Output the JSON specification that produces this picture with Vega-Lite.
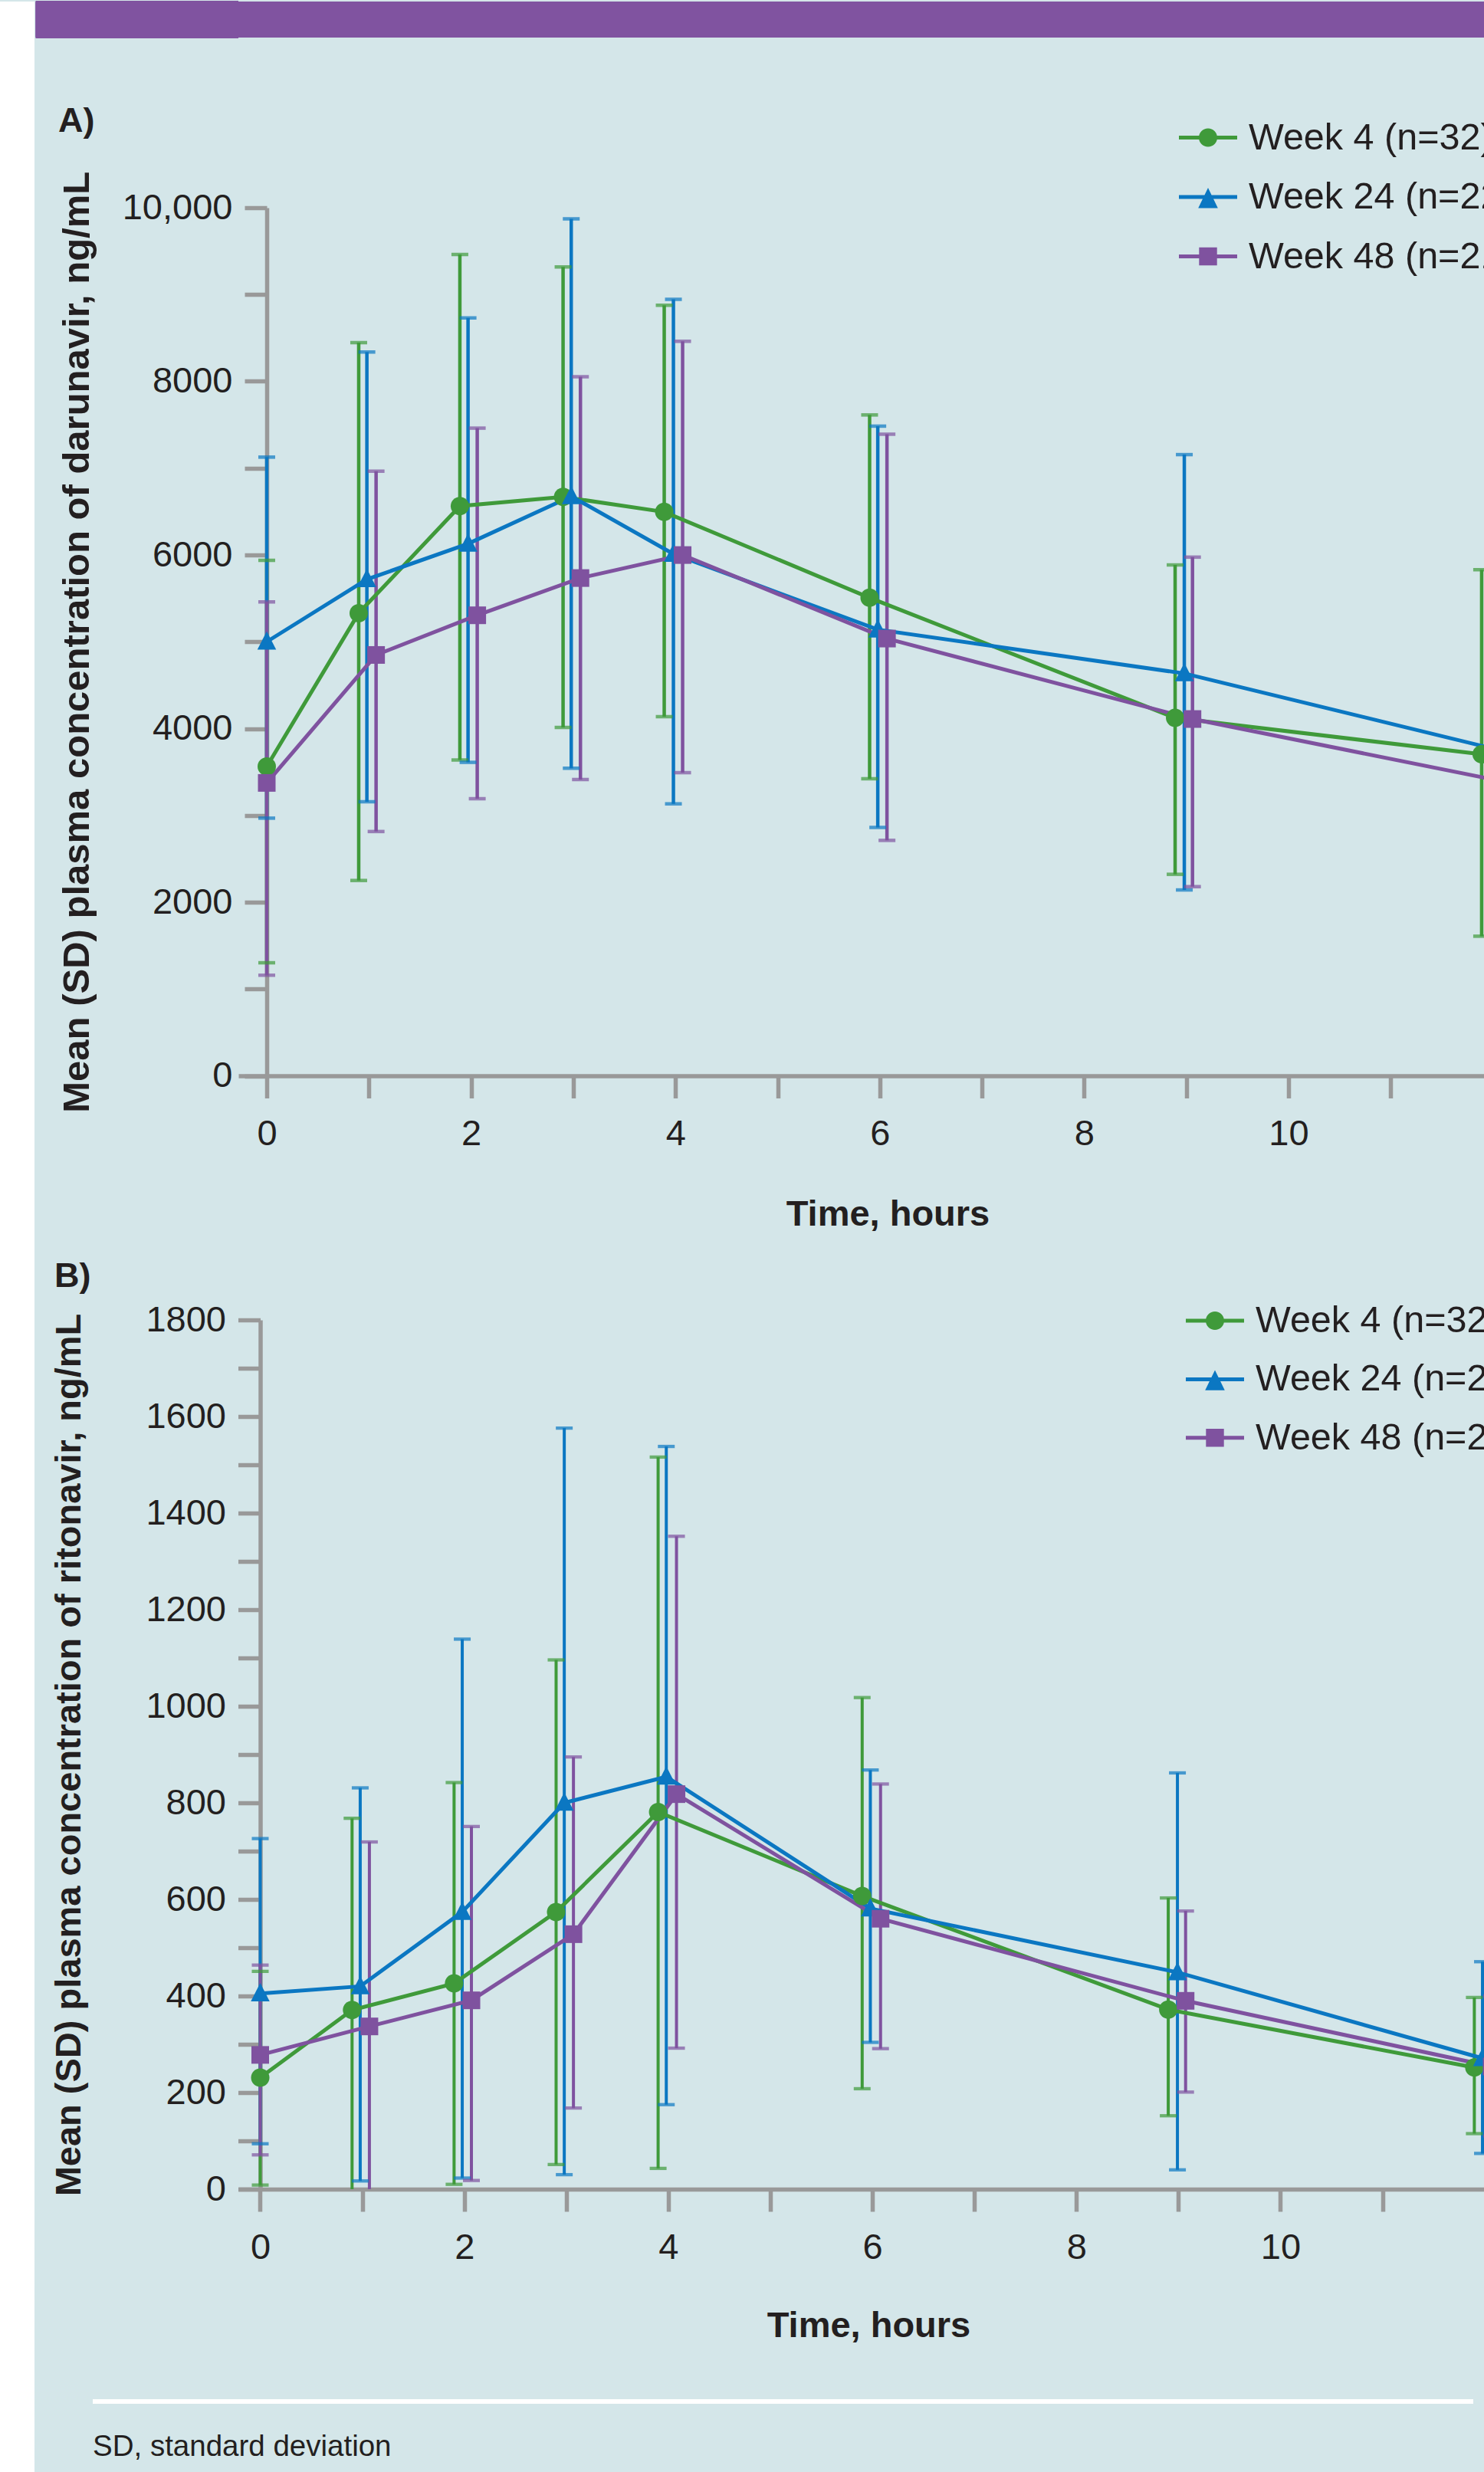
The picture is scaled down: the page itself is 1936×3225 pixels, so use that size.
{
  "$schema": "https://vega.github.io/schema/vega-lite/v6.json",
  "background": "#d4e6e9",
  "padding": 0,
  "spacing": 0,
  "config": {
    "view": {"stroke": null},
    "axis": {
      "grid": false,
      "domainColor": "#999999",
      "domainWidth": 5.5,
      "tickColor": "#999999",
      "tickWidth": 5.5,
      "tickSize": 29,
      "labelFont": "Liberation Sans, Arial, sans-serif",
      "labelFontSize": 47,
      "labelColor": "#231f20",
      "titleFont": "Liberation Sans, Arial, sans-serif",
      "titleFontWeight": "bold",
      "titleColor": "#231f20",
      "labelFlush": false,
      "labelOverlap": false
    },
    "axisX": {"labelPadding": 24, "titleFontSize": 47},
    "axisY": {"labelPadding": 16, "titleFontSize": 49}
  },
  "datasets": {
    "darunavir": [
      {"series": "Week 4 (n=32)", "t": 0, "mean": 3563, "lo": 1302, "hi": 5938},
      {"series": "Week 4 (n=32)", "t": 0.9, "mean": 5330, "lo": 2250, "hi": 8445},
      {"series": "Week 4 (n=32)", "t": 1.89, "mean": 6563, "lo": 3638, "hi": 9461},
      {"series": "Week 4 (n=32)", "t": 2.9, "mean": 6668, "lo": 4013, "hi": 9317},
      {"series": "Week 4 (n=32)", "t": 3.89, "mean": 6496, "lo": 4137, "hi": 8876},
      {"series": "Week 4 (n=32)", "t": 5.9, "mean": 5507, "lo": 3422, "hi": 7613},
      {"series": "Week 4 (n=32)", "t": 8.89, "mean": 4123, "lo": 2321, "hi": 5885},
      {"series": "Week 4 (n=32)", "t": 11.89, "mean": 3704, "lo": 1608, "hi": 5830},
      {"series": "Week 24 (n=22)", "t": 0, "mean": 5000, "lo": 2968, "hi": 7127},
      {"series": "Week 24 (n=22)", "t": 0.98, "mean": 5719, "lo": 3157, "hi": 8337},
      {"series": "Week 24 (n=22)", "t": 1.97, "mean": 6129, "lo": 3611, "hi": 8731},
      {"series": "Week 24 (n=22)", "t": 2.98, "mean": 6676, "lo": 3543, "hi": 9873},
      {"series": "Week 24 (n=22)", "t": 3.98, "mean": 6012, "lo": 3133, "hi": 8944},
      {"series": "Week 24 (n=22)", "t": 5.98, "mean": 5140, "lo": 2861, "hi": 7484},
      {"series": "Week 24 (n=22)", "t": 8.98, "mean": 4635, "lo": 2141, "hi": 7156},
      {"series": "Week 24 (n=22)", "t": 12, "mean": 3770, "lo": 1700, "hi": 5868},
      {"series": "Week 48 (n=21)", "t": 0, "mean": 3374, "lo": 1158, "hi": 5459},
      {"series": "Week 48 (n=21)", "t": 1.07, "mean": 4848, "lo": 2814, "hi": 6965},
      {"series": "Week 48 (n=21)", "t": 2.06, "mean": 5305, "lo": 3192, "hi": 7461},
      {"series": "Week 48 (n=21)", "t": 3.07, "mean": 5734, "lo": 3413, "hi": 8054},
      {"series": "Week 48 (n=21)", "t": 4.07, "mean": 5999, "lo": 3492, "hi": 8461},
      {"series": "Week 48 (n=21)", "t": 6.07, "mean": 5037, "lo": 2712, "hi": 7391},
      {"series": "Week 48 (n=21)", "t": 9.06, "mean": 4110, "lo": 2179, "hi": 5975},
      {"series": "Week 48 (n=21)", "t": 12.06, "mean": 3400, "lo": 1400, "hi": 5400}
    ],
    "ritonavir": [
      {"series": "Week 4 (n=32)", "t": 0, "mean": 231, "lo": 8.5, "hi": 451},
      {"series": "Week 4 (n=32)", "t": 0.9, "mean": 371, "lo": -26, "hi": 768},
      {"series": "Week 4 (n=32)", "t": 1.9, "mean": 426, "lo": 10, "hi": 842},
      {"series": "Week 4 (n=32)", "t": 2.9, "mean": 574, "lo": 51, "hi": 1096},
      {"series": "Week 4 (n=32)", "t": 3.9, "mean": 781, "lo": 43, "hi": 1516},
      {"series": "Week 4 (n=32)", "t": 5.9, "mean": 607, "lo": 208, "hi": 1018},
      {"series": "Week 4 (n=32)", "t": 8.9, "mean": 372, "lo": 152, "hi": 603},
      {"series": "Week 4 (n=32)", "t": 11.9, "mean": 252, "lo": 115, "hi": 397},
      {"series": "Week 24 (n=22)", "t": 0, "mean": 405, "lo": 94, "hi": 726},
      {"series": "Week 24 (n=22)", "t": 0.98, "mean": 420, "lo": 17, "hi": 831},
      {"series": "Week 24 (n=22)", "t": 1.98, "mean": 574, "lo": 23, "hi": 1139},
      {"series": "Week 24 (n=22)", "t": 2.98, "mean": 800, "lo": 30, "hi": 1576},
      {"series": "Week 24 (n=22)", "t": 3.98, "mean": 854, "lo": 175, "hi": 1538},
      {"series": "Week 24 (n=22)", "t": 5.98, "mean": 581, "lo": 304, "hi": 868},
      {"series": "Week 24 (n=22)", "t": 8.99, "mean": 449, "lo": 40, "hi": 862},
      {"series": "Week 24 (n=22)", "t": 11.98, "mean": 271, "lo": 74, "hi": 471},
      {"series": "Week 48 (n=21)", "t": 0, "mean": 278, "lo": 71, "hi": 464},
      {"series": "Week 48 (n=21)", "t": 1.07, "mean": 337, "lo": -46, "hi": 719},
      {"series": "Week 48 (n=21)", "t": 2.07, "mean": 391, "lo": 18, "hi": 751},
      {"series": "Week 48 (n=21)", "t": 3.07, "mean": 528, "lo": 168, "hi": 895},
      {"series": "Week 48 (n=21)", "t": 4.08, "mean": 818, "lo": 292, "hi": 1352},
      {"series": "Week 48 (n=21)", "t": 6.08, "mean": 560, "lo": 291, "hi": 839},
      {"series": "Week 48 (n=21)", "t": 9.07, "mean": 390, "lo": 201, "hi": 576},
      {"series": "Week 48 (n=21)", "t": 12.07, "mean": 254, "lo": 110, "hi": 400}
    ]
  },
  "hconcat": [
    {
      "width": 45,
      "height": 3225,
      "data": {"values": [{}]},
      "mark": {"type": "point", "opacity": 0},
      "view": {"fill": "#ffffff"}
    },
    {
      "spacing": 0,
      "vconcat": [
        {
          "width": 1625,
          "height": 47,
          "data": {"values": [{}]},
          "mark": {"type": "point", "opacity": 0},
          "view": {"fill": "#8053a0"},
          "encoding": {
            "x": {"datum": 0.5, "type": "quantitative", "scale": {"domain": [0, 1]},
              "axis": {"domain": false, "ticks": false, "labels": false, "title": null, "grid": false, "minExtent": 86.4, "maxExtent": 86.4}},
            "y": {"datum": 0.5, "type": "quantitative", "scale": {"domain": [0, 47]},
              "axis": {"values": [0.5,1.5,2.5,3.5,4.5,5.5,6.5,7.5,8.5,9.5,10.5,11.5,12.5,13.5,14.5,15.5,16.5,17.5,18.5,19.5,20.5,21.5,22.5,23.5,24.5,25.5,26.5,27.5,28.5,29.5,30.5,31.5,32.5,33.5,34.5,35.5,36.5,37.5,38.5,39.5,40.5,41.5,42.5,43.5,44.5,45.5,46.5], "domain": false, "labels": false, "title": null, "grid": false, "tickSize": 264.5, "tickWidth": 3, "tickColor": "#8053a0", "tickRound": false, "translate": 0}}
          }
        },
        {
          "width": 1625,
          "height": 1132.5,
          "data": {"name": "darunavir"},
          "title": {"text": "A)", "anchor": "start", "frame": "group", "dx": -235, "offset": -75.5, "baseline": "alphabetic", "font": "Liberation Sans, Arial, sans-serif", "fontSize": 45, "fontWeight": "bold", "color": "#231f20"},
          "encoding": {
            "x": {"field": "t", "type": "quantitative",
              "scale": {"domain": [-0.2776, 11.913], "nice": false, "zero": false},
              "axis": {"title": "Time, hours", "values": [0,1,2,3,4,5,6,7,8,9,10,11,12], "labelExpr": "datum.value % 2 ? '' : datum.value + ''", "titleX": 847, "titleY": 194.5, "titleAlign": "center", "titleBaseline": "alphabetic", "minExtent": 237.9, "maxExtent": 237.9}}
          },
          "layer": [
            {
              "mark": {"type": "rule", "strokeWidth": 4.5, "clip": true},
              "encoding": {
                "y": {"field": "lo", "type": "quantitative", "scale": {"domain": [0, 10000], "nice": false},
                  "axis": {"title": "Mean (SD) plasma concentration of darunavir, ng/mL", "values": [0,1000,2000,3000,4000,5000,6000,7000,8000,9000,10000], "labelExpr": "datum.value % 2000 ? '' : (datum.value == 10000 ? '10,000' : datum.value + '')", "offset": -37, "titleX": -233, "titleY": 566.25, "titleAngle": 270, "titleAlign": "center", "titleBaseline": "alphabetic"}},
                "y2": {"field": "hi"},
                "color": {"field": "series", "type": "nominal", "legend": null, "scale": {"domain": ["Week 4 (n=32)", "Week 24 (n=22)", "Week 48 (n=21)"], "range": ["#3f9a3a", "#0b77c2", "#7f529f"]}}
              }
            },
            {
              "mark": {"type": "tick", "orient": "horizontal", "size": 22, "thickness": 4.5, "clip": true},
              "encoding": {
                "y": {"field": "hi", "type": "quantitative",
                  "axis": {"title": "Mean (SD) plasma concentration of darunavir, ng/mL", "values": [0,1000,2000,3000,4000,5000,6000,7000,8000,9000,10000], "labelExpr": "datum.value % 2000 ? '' : (datum.value == 10000 ? '10,000' : datum.value + '')", "offset": -37, "titleX": -233, "titleY": 566.25, "titleAngle": 270, "titleAlign": "center", "titleBaseline": "alphabetic"}},
                "color": {"field": "series", "type": "nominal", "legend": null, "scale": {"domain": ["Week 4 (n=32)", "Week 24 (n=22)", "Week 48 (n=21)"], "range": ["#3f9a3a", "#0b77c2", "#7f529f"]}}
              }
            },
            {
              "mark": {"type": "tick", "orient": "horizontal", "size": 22, "thickness": 4.5, "clip": true},
              "encoding": {
                "y": {"field": "lo", "type": "quantitative",
                  "axis": {"title": "Mean (SD) plasma concentration of darunavir, ng/mL", "values": [0,1000,2000,3000,4000,5000,6000,7000,8000,9000,10000], "labelExpr": "datum.value % 2000 ? '' : (datum.value == 10000 ? '10,000' : datum.value + '')", "offset": -37, "titleX": -233, "titleY": 566.25, "titleAngle": 270, "titleAlign": "center", "titleBaseline": "alphabetic"}},
                "color": {"field": "series", "type": "nominal", "legend": null, "scale": {"domain": ["Week 4 (n=32)", "Week 24 (n=22)", "Week 48 (n=21)"], "range": ["#3f9a3a", "#0b77c2", "#7f529f"]}}
              }
            },
            {
              "mark": {"type": "line", "strokeWidth": 5, "clip": true},
              "encoding": {
                "y": {"field": "mean", "type": "quantitative",
                  "axis": {"title": "Mean (SD) plasma concentration of darunavir, ng/mL", "values": [0,1000,2000,3000,4000,5000,6000,7000,8000,9000,10000], "labelExpr": "datum.value % 2000 ? '' : (datum.value == 10000 ? '10,000' : datum.value + '')", "offset": -37, "titleX": -233, "titleY": 566.25, "titleAngle": 270, "titleAlign": "center", "titleBaseline": "alphabetic"}},
                "color": {"field": "series", "type": "nominal", "legend": null, "scale": {"domain": ["Week 4 (n=32)", "Week 24 (n=22)", "Week 48 (n=21)"], "range": ["#3f9a3a", "#0b77c2", "#7f529f"]}}
              }
            },
            {
              "mark": {"type": "point", "filled": true, "opacity": 1, "size": 625, "clip": true},
              "encoding": {
                "y": {"field": "mean", "type": "quantitative",
                  "axis": {"title": "Mean (SD) plasma concentration of darunavir, ng/mL", "values": [0,1000,2000,3000,4000,5000,6000,7000,8000,9000,10000], "labelExpr": "datum.value % 2000 ? '' : (datum.value == 10000 ? '10,000' : datum.value + '')", "offset": -37, "titleX": -233, "titleY": 566.25, "titleAngle": 270, "titleAlign": "center", "titleBaseline": "alphabetic"}},
                "color": {"field": "series", "type": "nominal", "legend": null, "scale": {"domain": ["Week 4 (n=32)", "Week 24 (n=22)", "Week 48 (n=21)"], "range": ["#3f9a3a", "#0b77c2", "#7f529f"]}},
                "shape": {"field": "series", "type": "nominal", "legend": null, "scale": {"domain": ["Week 4 (n=32)", "Week 24 (n=22)", "Week 48 (n=21)"], "range": ["M-0.96,0A0.96,0.96 0 1,1 0.96,0A0.96,0.96 0 1,1 -0.96,0Z", "M0,-1.1L0.98,0.82L-0.98,0.82Z", "M-0.92,-0.92H0.92V0.92H-0.92Z"]}}
              }
            },
            {
              "mark": {"type": "point", "filled": true, "opacity": 0},
              "encoding": {
                "y": {"field": "mean", "type": "quantitative",
                  "axis": {"title": "Mean (SD) plasma concentration of darunavir, ng/mL", "values": [0,1000,2000,3000,4000,5000,6000,7000,8000,9000,10000], "labelExpr": "datum.value % 2000 ? '' : (datum.value == 10000 ? '10,000' : datum.value + '')", "offset": -37, "titleX": -233, "titleY": 566.25, "titleAngle": 270, "titleAlign": "center", "titleBaseline": "alphabetic"}},
                "color": {"field": "series", "type": "nominal",
                  "scale": {"domain": ["Week 4 (n=32)", "Week 24 (n=22)", "Week 48 (n=21)"], "range": ["#3f9a3a", "#0b77c2", "#7f529f"]},
                  "legend": {"orient": "none", "legendX": 1227, "legendY": -129.5, "title": null, "symbolSize": 5776, "symbolOpacity": 1, "symbolStrokeWidth": 0, "labelFont": "Liberation Sans, Arial, sans-serif", "labelFontSize": 48.5, "labelColor": "#231f20", "labelOffset": 15, "labelLimit": 2000, "rowPadding": 14.5, "padding": 0}},
                "shape": {"field": "series", "type": "nominal",
                  "scale": {"domain": ["Week 4 (n=32)", "Week 24 (n=22)", "Week 48 (n=21)"], "range": ["M-1,-0.066H1V0.066H-1ZM-0.316,0A0.316,0.316 0 1,1 0.316,0A0.316,0.316 0 1,1 -0.316,0Z", "M-1,-0.066H1V0.066H-1ZM0,-0.316L0.337,0.379H-0.337Z", "M-1,-0.066H1V0.066H-1ZM-0.308,-0.308H0.308V0.308H-0.308Z"]},
                  "legend": {"orient": "none", "legendX": 1227, "legendY": -129.5, "title": null, "symbolSize": 5776, "symbolOpacity": 1, "symbolStrokeWidth": 0, "labelFont": "Liberation Sans, Arial, sans-serif", "labelFontSize": 48.5, "labelColor": "#231f20", "labelOffset": 15, "labelLimit": 2000, "rowPadding": 14.5, "padding": 0}}
              }
            }
          ],
          "resolve": {"scale": {"color": "independent", "shape": "independent"}}
        },
        {
          "width": 1625,
          "height": 1134,
          "data": {"name": "ritonavir"},
          "title": {"text": "B)", "anchor": "start", "frame": "group", "dx": -240, "offset": -38.5, "baseline": "alphabetic", "font": "Liberation Sans, Arial, sans-serif", "fontSize": 45, "fontWeight": "bold", "color": "#231f20"},
          "encoding": {
            "x": {"field": "t", "type": "quantitative",
              "scale": {"domain": [-0.2141, 11.9948], "nice": false, "zero": false},
              "axis": {"title": "Time, hours", "values": [0,1,2,3,4,5,6,7,8,9,10,11,12], "labelExpr": "datum.value % 2 ? '' : datum.value + ''", "titleX": 822, "titleY": 192.5, "titleAlign": "center", "titleBaseline": "alphabetic", "minExtent": 273.5, "maxExtent": 273.5}}
          },
          "layer": [
            {
              "mark": {"type": "rule", "strokeWidth": 4, "clip": true},
              "encoding": {
                "y": {"field": "lo", "type": "quantitative", "scale": {"domain": [0, 1800], "nice": false},
                  "axis": {"title": "Mean (SD) plasma concentration of ritonavir, ng/mL", "titleFontSize": 47, "values": [0,100,200,300,400,500,600,700,800,900,1000,1100,1200,1300,1400,1500,1600,1700,1800], "labelExpr": "datum.value % 200 ? '' : datum.value + ''", "offset": -28.5, "titleX": -235, "titleY": 567, "titleAngle": 270, "titleAlign": "center", "titleBaseline": "alphabetic"}},
                "y2": {"field": "hi"},
                "color": {"field": "series", "type": "nominal", "legend": null, "scale": {"domain": ["Week 4 (n=32)", "Week 24 (n=22)", "Week 48 (n=21)"], "range": ["#3f9a3a", "#0b77c2", "#7f529f"]}}
              }
            },
            {
              "mark": {"type": "tick", "orient": "horizontal", "size": 22, "thickness": 4.3, "clip": true},
              "encoding": {
                "y": {"field": "hi", "type": "quantitative",
                  "axis": {"title": "Mean (SD) plasma concentration of ritonavir, ng/mL", "titleFontSize": 47, "values": [0,100,200,300,400,500,600,700,800,900,1000,1100,1200,1300,1400,1500,1600,1700,1800], "labelExpr": "datum.value % 200 ? '' : datum.value + ''", "offset": -28.5, "titleX": -235, "titleY": 567, "titleAngle": 270, "titleAlign": "center", "titleBaseline": "alphabetic"}},
                "color": {"field": "series", "type": "nominal", "legend": null, "scale": {"domain": ["Week 4 (n=32)", "Week 24 (n=22)", "Week 48 (n=21)"], "range": ["#3f9a3a", "#0b77c2", "#7f529f"]}}
              }
            },
            {
              "mark": {"type": "tick", "orient": "horizontal", "size": 22, "thickness": 4.3, "clip": true},
              "encoding": {
                "y": {"field": "lo", "type": "quantitative",
                  "axis": {"title": "Mean (SD) plasma concentration of ritonavir, ng/mL", "titleFontSize": 47, "values": [0,100,200,300,400,500,600,700,800,900,1000,1100,1200,1300,1400,1500,1600,1700,1800], "labelExpr": "datum.value % 200 ? '' : datum.value + ''", "offset": -28.5, "titleX": -235, "titleY": 567, "titleAngle": 270, "titleAlign": "center", "titleBaseline": "alphabetic"}},
                "color": {"field": "series", "type": "nominal", "legend": null, "scale": {"domain": ["Week 4 (n=32)", "Week 24 (n=22)", "Week 48 (n=21)"], "range": ["#3f9a3a", "#0b77c2", "#7f529f"]}}
              }
            },
            {
              "mark": {"type": "line", "strokeWidth": 5, "clip": true},
              "encoding": {
                "y": {"field": "mean", "type": "quantitative",
                  "axis": {"title": "Mean (SD) plasma concentration of ritonavir, ng/mL", "titleFontSize": 47, "values": [0,100,200,300,400,500,600,700,800,900,1000,1100,1200,1300,1400,1500,1600,1700,1800], "labelExpr": "datum.value % 200 ? '' : datum.value + ''", "offset": -28.5, "titleX": -235, "titleY": 567, "titleAngle": 270, "titleAlign": "center", "titleBaseline": "alphabetic"}},
                "color": {"field": "series", "type": "nominal", "legend": null, "scale": {"domain": ["Week 4 (n=32)", "Week 24 (n=22)", "Week 48 (n=21)"], "range": ["#3f9a3a", "#0b77c2", "#7f529f"]}}
              }
            },
            {
              "mark": {"type": "point", "filled": true, "opacity": 1, "size": 625, "clip": true},
              "encoding": {
                "y": {"field": "mean", "type": "quantitative",
                  "axis": {"title": "Mean (SD) plasma concentration of ritonavir, ng/mL", "titleFontSize": 47, "values": [0,100,200,300,400,500,600,700,800,900,1000,1100,1200,1300,1400,1500,1600,1700,1800], "labelExpr": "datum.value % 200 ? '' : datum.value + ''", "offset": -28.5, "titleX": -235, "titleY": 567, "titleAngle": 270, "titleAlign": "center", "titleBaseline": "alphabetic"}},
                "color": {"field": "series", "type": "nominal", "legend": null, "scale": {"domain": ["Week 4 (n=32)", "Week 24 (n=22)", "Week 48 (n=21)"], "range": ["#3f9a3a", "#0b77c2", "#7f529f"]}},
                "shape": {"field": "series", "type": "nominal", "legend": null, "scale": {"domain": ["Week 4 (n=32)", "Week 24 (n=22)", "Week 48 (n=21)"], "range": ["M-0.96,0A0.96,0.96 0 1,1 0.96,0A0.96,0.96 0 1,1 -0.96,0Z", "M0,-1.1L0.98,0.82L-0.98,0.82Z", "M-0.92,-0.92H0.92V0.92H-0.92Z"]}}
              }
            },
            {
              "mark": {"type": "point", "filled": true, "opacity": 0},
              "encoding": {
                "y": {"field": "mean", "type": "quantitative",
                  "axis": {"title": "Mean (SD) plasma concentration of ritonavir, ng/mL", "titleFontSize": 47, "values": [0,100,200,300,400,500,600,700,800,900,1000,1100,1200,1300,1400,1500,1600,1700,1800], "labelExpr": "datum.value % 200 ? '' : datum.value + ''", "offset": -28.5, "titleX": -235, "titleY": 567, "titleAngle": 270, "titleAlign": "center", "titleBaseline": "alphabetic"}},
                "color": {"field": "series", "type": "nominal",
                  "scale": {"domain": ["Week 4 (n=32)", "Week 24 (n=22)", "Week 48 (n=21)"], "range": ["#3f9a3a", "#0b77c2", "#7f529f"]},
                  "legend": {"orient": "none", "legendX": 1236, "legendY": -37, "title": null, "symbolSize": 5776, "symbolOpacity": 1, "symbolStrokeWidth": 0, "labelFont": "Liberation Sans, Arial, sans-serif", "labelFontSize": 48.5, "labelColor": "#231f20", "labelOffset": 15, "labelLimit": 2000, "rowPadding": 13.4, "padding": 0}},
                "shape": {"field": "series", "type": "nominal",
                  "scale": {"domain": ["Week 4 (n=32)", "Week 24 (n=22)", "Week 48 (n=21)"], "range": ["M-1,-0.066H1V0.066H-1ZM-0.316,0A0.316,0.316 0 1,1 0.316,0A0.316,0.316 0 1,1 -0.316,0Z", "M-1,-0.066H1V0.066H-1ZM0,-0.316L0.337,0.379H-0.337Z", "M-1,-0.066H1V0.066H-1ZM-0.308,-0.308H0.308V0.308H-0.308Z"]},
                  "legend": {"orient": "none", "legendX": 1236, "legendY": -37, "title": null, "symbolSize": 5776, "symbolOpacity": 1, "symbolStrokeWidth": 0, "labelFont": "Liberation Sans, Arial, sans-serif", "labelFontSize": 48.5, "labelColor": "#231f20", "labelOffset": 15, "labelLimit": 2000, "rowPadding": 13.4, "padding": 0}}
              }
            }
          ],
          "resolve": {"scale": {"color": "independent", "shape": "independent"}}
        },
        {
          "width": 1611,
          "height": 6,
          "data": {"values": [{}]},
          "mark": {"type": "point", "opacity": 0},
          "view": {"fill": "#ffffff"},
          "title": {"text": "SD, standard deviation", "orient": "bottom", "anchor": "start", "frame": "group", "dx": -190, "offset": 68, "baseline": "alphabetic", "font": "Liberation Sans, Arial, sans-serif", "fontSize": 38.5, "fontWeight": "normal", "color": "#231f20"},
          "encoding": {
            "y": {"datum": 0.5, "type": "quantitative", "scale": {"domain": [0, 1]},
              "axis": {"values": [0.5], "domain": false, "labels": false, "title": null, "grid": false, "tickSize": 190, "tickWidth": 6, "tickColor": "#ffffff", "tickRound": false, "translate": 0}}
          }
        }
      ]
    }
  ]
}
